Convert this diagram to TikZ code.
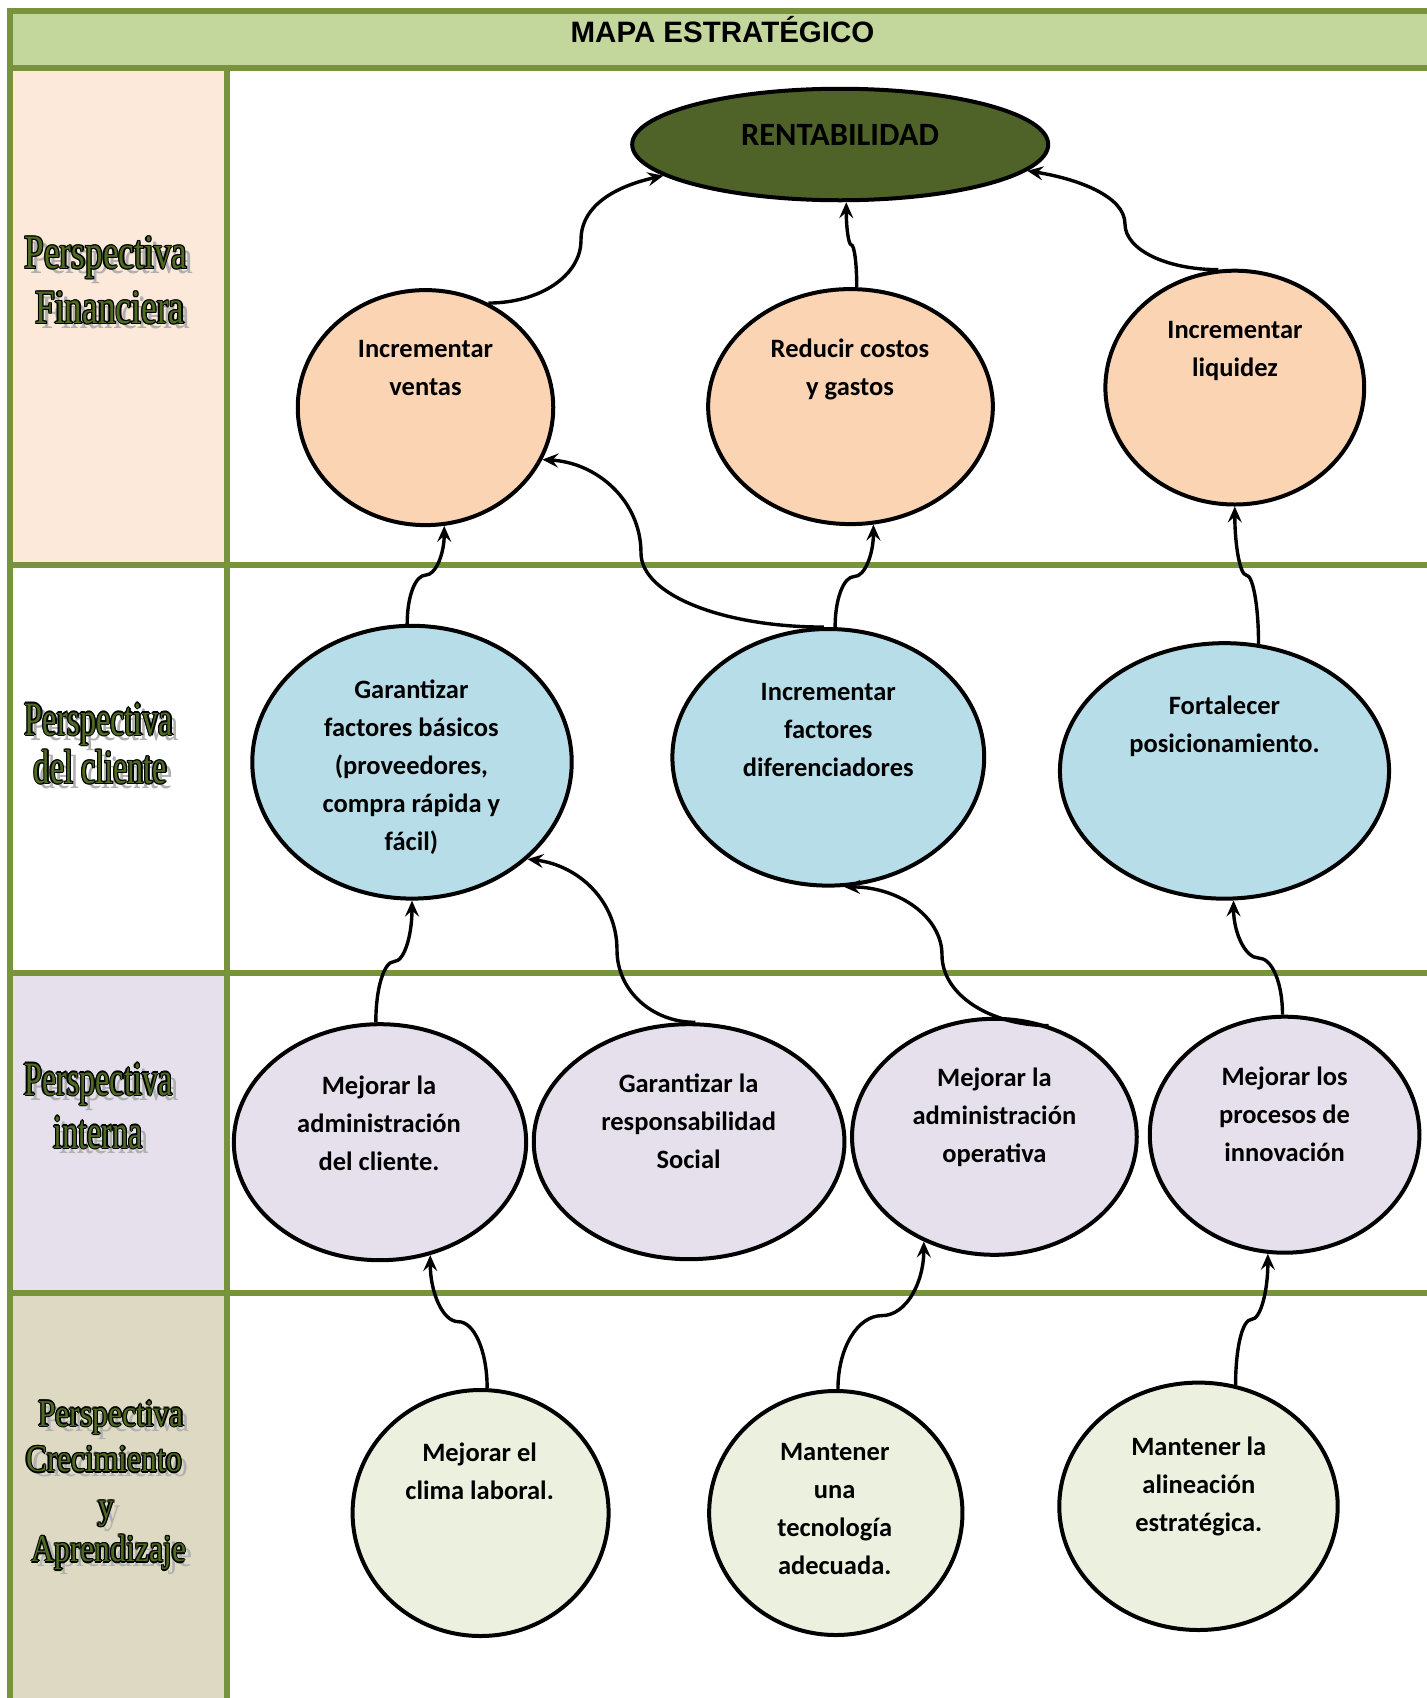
\documentclass[tikz,border=0pt]{standalone}
\usepackage{fontspec}
\setmainfont{Carlito}
\newfontfamily\titlefont{Liberation Sans}
\newfontfamily\lblA{Liberation Serif}[FakeStretch=0.735]
\newfontfamily\lblB{Liberation Serif}[FakeStretch=0.67]
\newfontfamily\lblC{Liberation Serif}[FakeStretch=0.83]
\usetikzlibrary{shapes.geometric,arrows.meta}
\definecolor{frame}{HTML}{77933C}
\definecolor{titlebg}{HTML}{C3D69B}
\definecolor{finbg}{HTML}{FDE9D9}
\definecolor{intbg}{HTML}{E5E0EC}
\definecolor{crebg}{HTML}{DDD9C3}
\definecolor{peach}{HTML}{FBD4B4}
\definecolor{skyb}{HTML}{B7DDE8}
\definecolor{lav}{HTML}{E5E0EC}
\definecolor{palegreen}{HTML}{EBF1DE}
\definecolor{olive}{HTML}{4F6228}
\definecolor{lblfill}{HTML}{4F6A22}
\definecolor{shadowc}{HTML}{B0B0B0}
\newcommand\shadowtext[1]{\leavevmode
 \rlap{\kern6pt\raisebox{-5pt}{\textcolor{shadowc}{#1}}}%
 \rlap{\kern-1.3pt\textcolor{black}{#1}}%
 \rlap{\kern1.3pt\textcolor{black}{#1}}%
 \rlap{\raisebox{1.3pt}{\textcolor{black}{#1}}}%
 \rlap{\raisebox{-1.3pt}{\textcolor{black}{#1}}}%
 \rlap{\kern-.9pt\raisebox{.9pt}{\textcolor{black}{#1}}}%
 \rlap{\kern.9pt\raisebox{.9pt}{\textcolor{black}{#1}}}%
 \rlap{\kern-.9pt\raisebox{-.9pt}{\textcolor{black}{#1}}}%
 \rlap{\kern.9pt\raisebox{-.9pt}{\textcolor{black}{#1}}}%
 \textcolor{lblfill}{#1}}
\tikzset{
 gridline/.style={draw=frame, line width=6pt},
 obj/.style={ellipse, draw=black, line width=4pt, inner sep=0pt},
 txt/.style={align=center, inner sep=0pt, font=\fontsize{26.5}{38}\selectfont\bfseries},
 conn/.style={line width=3.4pt, -{Stealth[length=16pt,width=14pt,inset=6pt]}},
 lblfa/.style={anchor=base, inner sep=0pt, font=\lblA\fontsize{48}{55}\selectfont},
 lblfb/.style={anchor=base, inner sep=0pt, font=\lblB\fontsize{48}{55}\selectfont},
 lblfc/.style={anchor=base, inner sep=0pt, font=\lblC\fontsize{38}{45}\selectfont}
}
\begin{document}
\begin{tikzpicture}[x=1pt,y=-1pt]
\useasboundingbox (0,0) rectangle (1427,1698);
\fill[white] (0,0) rectangle (1427,1698);
% cell fills
\fill[titlebg] (10,11) rectangle (1427,68);
\fill[finbg] (10,68) rectangle (227,565);
\fill[intbg] (10,973) rectangle (227,1293);
\fill[crebg] (10,1293) rectangle (227,1698);
% grid
\draw[gridline] (1430,11) -- (10,11) -- (10,1701);
\draw[gridline] (10,68) -- (1430,68);
\draw[gridline] (227,68) -- (227,1701);
\draw[gridline] (10,565) -- (1430,565);
\draw[gridline] (10,973) -- (1430,973);
\draw[gridline] (10,1293) -- (1430,1293);
% title
\node[inner sep=0pt, font=\titlefont\bfseries\fontsize{29.5}{34}\selectfont] (title) at (722.5,29.5) {MAPA ESTRATÉGICO};
% side labels
\node[lblfa] (lf1) at (106,268.3) {\shadowtext{Perspectiva}};
\node[lblfa] (lf2) at (110,323.3) {\shadowtext{Financiera}};
\node[lblfb] (lc1) at (99,735) {\shadowtext{Perspectiva}};
\node[lblfb] (lc2) at (100.5,783.5) {\shadowtext{del cliente}};
\node[lblfb] (li1) at (98.3,1095) {\shadowtext{Perspectiva}};
\node[lblfb] (li2) at (98.3,1148) {\shadowtext{interna}};
\node[lblfc] (lg1) at (111,1426) {\shadowtext{Perspectiva}};
\node[lblfc] (lg2) at (104,1471.7) {\shadowtext{Crecimiento}};
\node[lblfc] (lg3) at (106,1518.3) {\shadowtext{y}};
\node[lblfc] (lg4) at (109,1561.7) {\shadowtext{Aprendizaje}};
% ellipses
\node[obj, fill=olive, minimum width=416pt, minimum height=111.5pt] (rent) at (840.2,144.5) {};
\node[obj, fill=peach, minimum width=255.5pt, minimum height=235pt] (iv) at (425.5,407.6) {};
\node[obj, fill=peach, minimum width=284.7pt, minimum height=235pt] (rc) at (850.5,406.6) {};
\node[obj, fill=peach, minimum width=258.8pt, minimum height=233.8pt] (il) at (1234.8,387.6) {};
\node[obj, fill=skyb, minimum width=319.4pt, minimum height=272.8pt] (gf) at (412,762.2) {};
\node[obj, fill=skyb, minimum width=311.8pt, minimum height=256.6pt] (idf) at (828.3,757.3) {};
\node[obj, fill=skyb, minimum width=329.1pt, minimum height=255.5pt] (fp) at (1224.5,770.9) {};
\node[obj, fill=lav, minimum width=292.3pt, minimum height=236pt] (mc) at (380,1142.2) {};
\node[obj, fill=lav, minimum width=310.7pt, minimum height=235pt] (gr) at (689.1,1141.7) {};
\node[obj, fill=lav, minimum width=284.7pt, minimum height=236pt] (mo) at (994.4,1136.8) {};
\node[obj, fill=lav, minimum width=269.6pt, minimum height=236pt] (mi) at (1284.6,1134.7) {};
\node[obj, fill=palegreen, minimum width=256pt, minimum height=246pt] (ml) at (480.6,1513) {};
\node[obj, fill=palegreen, minimum width=253.3pt, minimum height=244pt] (mt) at (835.8,1513) {};
\node[obj, fill=palegreen, minimum width=278.4pt, minimum height=247.4pt] (ma) at (1198.5,1506.3) {};
% texts
\node[inner sep=0pt, font=\fontsize{32.5}{36}\selectfont\bfseries] (trent) at (840,135.3) {RENTABILIDAD};
\node[txt] (tiv) at (425.5,368.2) {Incrementar\\ventas};
\node[txt] (trc) at (850,369) {Reducir costos\\y gastos};
\node[txt] (til) at (1235,350.8) {Incrementar\\liquidez};
\node[txt] (tgf) at (411.4,767.2) {Garantizar\\factores básicos\\(proveedores,\\compra rápida y\\fácil)};
\node[txt] (tidf) at (828.3,729.7) {Incrementar\\factores\\diferenciadores};
\node[txt] (tfp) at (1224.5,726) {Fortalecer\\posicionamiento.};
\node[txt] (tmc) at (379,1122.8) {Mejorar la\\administración\\del cliente.};
\node[txt] (tgr) at (688.6,1121.7) {Garantizar la\\responsabilidad\\Social};
\node[txt] (tmo) at (994.4,1117.4) {Mejorar la\\administración\\operativa};
\node[txt] (tmi) at (1284.6,1114.3) {Mejorar los\\procesos de\\innovación};
\node[txt] (tml) at (479.6,1470.8) {Mejorar el\\clima laboral.};
\node[txt] (tmt) at (834.7,1508.5) {Mantener\\una\\tecnología\\adecuada.};
\node[txt] (tma) at (1198.8,1486.5) {Mantener la\\alineación\\estratégica.};
% connectors
\draw[conn] (iv.59) .. controls +(51,0) and +(0,36) .. (581,240) .. controls +(0,-36) and +(-45,10) .. (rent.190);
\draw[conn] (rc.87) .. controls +(0,-24.5) and +(2.9,0) .. (851.3,244.8) .. controls +(-2.9,0) and +(0,24.5) .. (rent.276);
\draw[conn] (il.98) .. controls +(-51,0) and +(0,26) .. (1125,224) .. controls +(0,-28) and +(50,8) .. (rent.352);
\draw[conn] (gf.92) .. controls +(0,-28) and +(-10.1,0) .. (425.6,575.1) .. controls +(10.1,0) and +(0,28) .. (iv.279);
\draw[conn] (idf.92) .. controls +(-100,0) and +(0,42) .. (641,553) .. controls +(0,-52) and +(55,3) .. (iv.336);
\draw[conn] (idf.87) .. controls +(0,-29) and +(-10.6,0) .. (854.4,576.5) .. controls +(10.6,0) and +(0,29) .. (rc.281);
\draw[conn] (fp.75) .. controls +(0,-38.8) and +(6.4,0) .. (1246.4,575.2) .. controls +(-6.4,0) and +(0,38.8) .. (il.270);
\draw[conn] (mc.92) .. controls +(0,-34.5) and +(-10.1,0) .. (394.2,961.5) .. controls +(10.1,0) and +(0,34.5) .. (gf.270);
\draw[conn] (gr.87) .. controls +(-43,0) and +(0,41) .. (617,950) .. controls +(0,-50) and +(50,6) .. (gf.320);
\draw[conn] (mo.64) .. controls +(-58,0) and +(0,40) .. (942,955) .. controls +(0,-38.5) and +(54,0) .. (idf.277);
\draw[conn] (mi.91) .. controls +(0,-32) and +(13.4,0) .. (1258.6,958) .. controls +(-13.4,0) and +(0,32) .. (fp.274);
\draw[conn] (ml.87) .. controls +(0,-37.7) and +(15.6,0) .. (458.4,1321.7) .. controls +(-15.6,0) and +(0,37.7) .. (mc.294);
\draw[conn] (mt.89) .. controls +(0,-41.5) and +(-24.1,0) .. (881.9,1315.6) .. controls +(24.1,0) and +(0,41.5) .. (mo.236);
\draw[conn] (ma.73) .. controls +(0,-37.2) and +(-9.1,0) .. (1251.5,1319.4) .. controls +(9.1,0) and +(0,37.2) .. (mi.262);
\end{tikzpicture}
\end{document}
